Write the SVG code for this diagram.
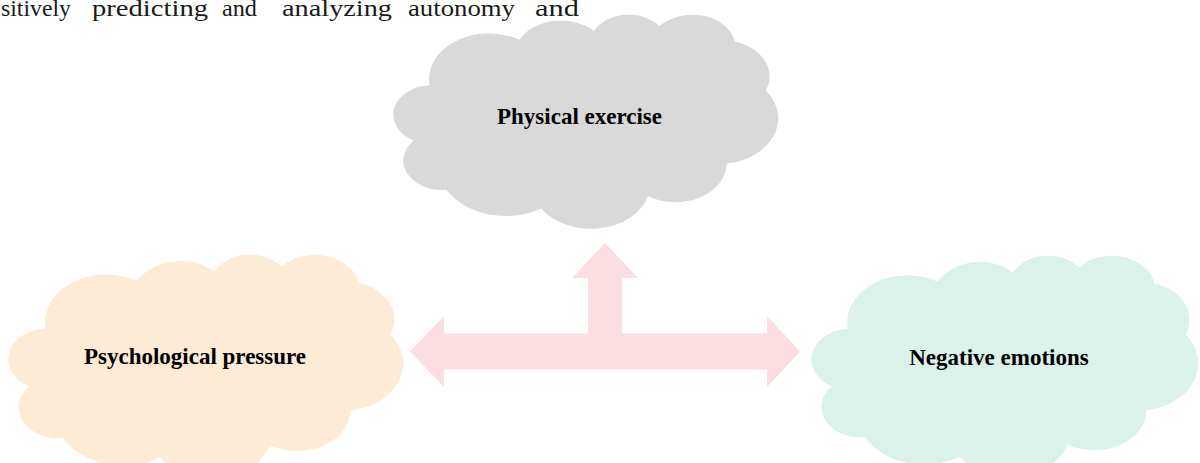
<svg xmlns="http://www.w3.org/2000/svg" xmlns:xlink="http://www.w3.org/1999/xlink" width="1200" height="463" viewBox="0 0 1200 463">
  <style>
    .body { font-family: "Liberation Serif", "Times New Roman", serif; font-size: 23px; fill: #1a1a1a; }
    .label { font-family: "Liberation Serif", "Times New Roman", serif; font-size: 23px; font-weight: bold; fill: #000000; text-anchor: middle; }
    .gray { fill: #d9d9d9; }
    .peach { fill: #fdebd6; }
    .mint { fill: #daf2ea; }
    .arrow { fill: #fbdde2; }
  </style>
  <defs>
    <path id="cloud" d="M39,143.7 A67.53,91.9 0 0 1 140.05,52.02 A53.33,72.67 0 0 1 224.56,34.32 A43.65,59.45 0 0 1 298.33,24.81 A48.57,65.95 0 0 1 383.18,55.76 A53.33,72.73 0 0 1 418.19,154.6 A67.75,92.2 0 0 1 374.05,302.03 A57.85,78.67 0 0 1 285.56,368.13 A67.52,92.15 0 0 1 164.81,392.64 A77.2,105.43 0 0 1 58.05,354.7 A43.6,59.18 0 0 1 21.14,255.48 A43.45,59.45 0 0 1 39,143.7 Z"/>
  </defs>
  <rect x="0" y="0" width="1200" height="463" fill="#ffffff"/>

  <g id="page-text">
    <text class="body" x="1" y="16" textLength="70" lengthAdjust="spacingAndGlyphs">sitively</text>
    <text class="body" x="92" y="16" textLength="116" lengthAdjust="spacingAndGlyphs">predicting</text>
    <text class="body" x="222" y="16" textLength="35" lengthAdjust="spacingAndGlyphs">and</text>
    <text class="body" x="282" y="16" textLength="110" lengthAdjust="spacingAndGlyphs">analyzing</text>
    <text class="body" x="408" y="16" textLength="107" lengthAdjust="spacingAndGlyphs">autonomy</text>
    <text class="body" x="535" y="16" textLength="44" lengthAdjust="spacingAndGlyphs">and</text>
  </g>

  <g id="connectors">
    <path class="arrow" d="M410,351.5 L444,316 L444,333.5 L588,333.5 L588,278 L572,278 L605,243 L638,278 L622,278 L622,333.5 L767,333.5 L767,316 L800,351.5 L767,387 L767,369.5 L444,369.5 L444,387 Z"/>
  </g>

  <g id="node-physical-exercise">
    <use xlink:href="#cloud" href="#cloud" class="gray" transform="translate(395,14) scale(0.88657,0.49537)"/>
    <text class="label" x="579.5" y="124">Physical exercise</text>
  </g>

  <g id="node-psychological-pressure">
    <use xlink:href="#cloud" href="#cloud" class="peach" transform="translate(10,254) scale(0.90972,0.51852)"/>
    <text class="label" x="195" y="364">Psychological pressure</text>
  </g>

  <g id="node-negative-emotions">
    <use xlink:href="#cloud" href="#cloud" class="mint" transform="translate(813,255) scale(0.8912,0.51389)"/>
    <text class="label" x="999" y="365">Negative emotions</text>
  </g>
</svg>
